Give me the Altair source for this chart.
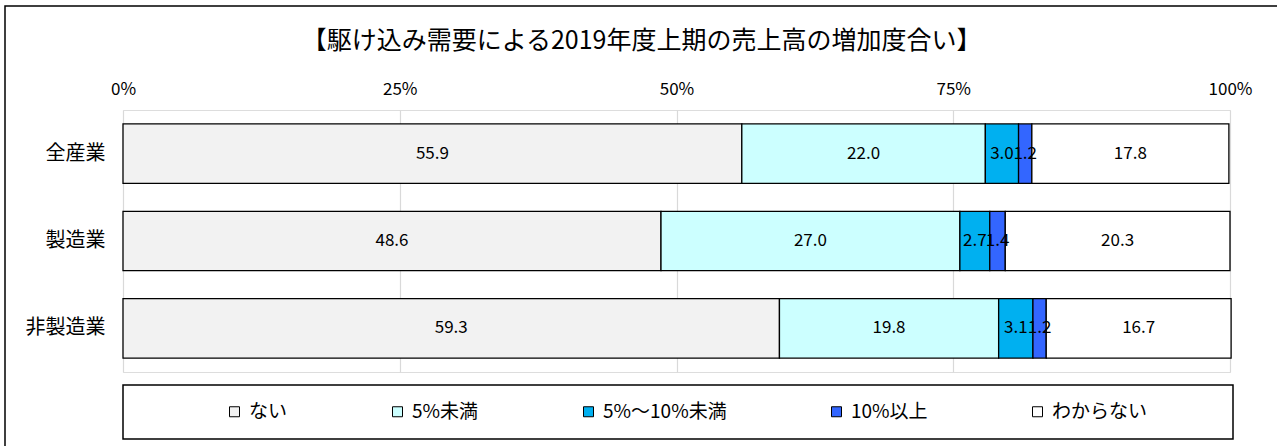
import altair as alt
import pandas as pd

categories = ["全産業", "製造業", "非製造業"]
series = ["ない", "5%未満", "5%～10%未満", "10%以上", "わからない"]
colors = ["#F2F2F2", "#CCFFFF", "#00B0F0", "#3366FF", "#FFFFFF"]
values = {
    "全産業":   [55.9, 22.0, 3.0, 1.2, 17.8],
    "製造業":   [48.6, 27.0, 2.7, 1.4, 20.3],
    "非製造業": [59.3, 19.8, 3.1, 1.2, 16.7],
}
x_ticks = [0, 25, 50, 75, 100]
title_text = "【駆け込み需要による2019年度上期の売上高の増加度合い】"

rows = []
for c in categories:
    for i, (s, v) in enumerate(zip(series, values[c])):
        rows.append({"cat": c, "series": s, "order": i, "value": v, "label": f"{v:.1f}"})
df = pd.DataFrame(rows)

W, H = 1107, 262
FONT = "Noto Sans CJK JP"

base = alt.Chart(df).transform_stack(
    stack="value", groupby=["cat"], as_=["x0", "x1"],
    sort=[alt.SortField("order", order="ascending")]
).transform_calculate(mid="(datum.x0 + datum.x1) / 2")

yenc = alt.Y("cat:N", sort=categories, title=None,
             scale=alt.Scale(paddingInner=0.32, paddingOuter=0.16),
             axis=alt.Axis(labelFontSize=20, labelColor="black", labelPadding=18,
                           ticks=False, domain=False, labelFont=FONT))

bars = base.mark_bar(stroke="black", strokeWidth=1.3).encode(
    x=alt.X("x0:Q", title=None,
            scale=alt.Scale(domain=[0, 100], nice=False),
            axis=alt.Axis(orient="top", values=x_ticks, labelExpr="datum.value + '%'",
                          labelFontSize=17, labelColor="black", labelPadding=12,
                          labelFlush=False,
                          ticks=False, domain=False, grid=True, gridColor="#D9D9D9",
                          gridWidth=1.2, labelFont=FONT)),
    x2="x1:Q",
    y=yenc,
    color=alt.Color("series:N", sort=series,
                    scale=alt.Scale(domain=series, range=colors),
                    legend=alt.Legend(title=None, orient="none", direction="horizontal",
                                      legendX=102, legendY=292, columns=5,
                                      symbolType="square", symbolSize=100,
                                      symbolStrokeColor="black", symbolStrokeWidth=1,
                                      labelFontSize=19, labelFont=FONT, labelColor="black",
                                      labelOffset=5, columnPadding=100, labelLimit=0,
                                      padding=0)),
)

texts = base.mark_text(fontSize=17, color="black", font=FONT).encode(
    x="mid:Q",
    y=alt.Y("cat:N", sort=categories),
    text="label:N",
)

legend_box = alt.Chart(pd.DataFrame({"k": [0]})).mark_rect(
    fill=None, stroke="black", strokeWidth=1.5
).encode(x=alt.value(0), x2=alt.value(W + 3), y=alt.value(275), y2=alt.value(329))

frame = alt.Chart(pd.DataFrame({"k": [0]})).mark_rect(
    fill=None, stroke="black", strokeWidth=1.5
).encode(x=alt.value(-118), x2=alt.value(W + 100), y=alt.value(-104), y2=alt.value(H + 150))

chart = alt.layer(frame, bars, texts, legend_box).properties(
    width=W, height=H,
    title=alt.TitleParams(title_text, fontSize=25, fontWeight="normal", font=FONT,
                          color="black", anchor="middle", dx=-35, offset=0, dy=49),
    autosize=alt.AutoSizeParams(type="none"),
    padding={"left": 123, "top": 110, "right": 47, "bottom": 74},
).configure_view(stroke="black", strokeWidth=1.5).configure(background="white")

chart.save("out.html", embed_options={"renderer": "svg", "actions": False})
